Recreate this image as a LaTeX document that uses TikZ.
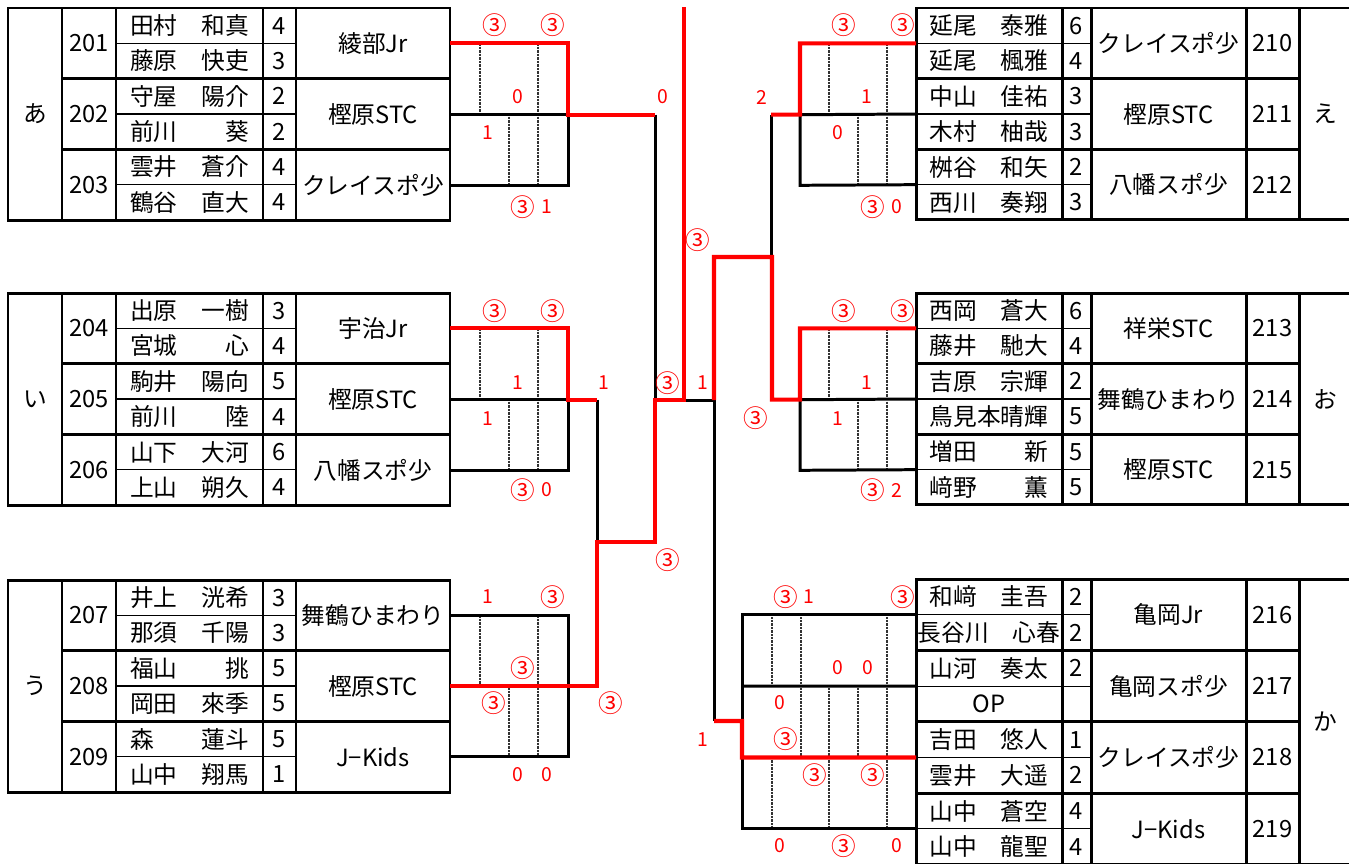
\documentclass[tikz,border=0pt]{standalone}
\usepackage{fontspec}
\setmainfont{Noto Sans CJK JP}
\usepackage{xcolor}
\usepackage{tikz}
\usetikzlibrary{positioning, calc}
\definecolor{winred}{HTML}{FF0000}
\definecolor{gridblack}{HTML}{000000}

\tikzset{
  tblline/.style={gridblack, line width=1.7pt},
  rowline/.style={gridblack, line width=0.6pt},
  brline/.style={gridblack, line width=1.7pt},
  winline/.style={winred, line width=2.3pt},
  scorecol/.style={gridblack!80, line width=1.1pt, dash pattern=on 0.4pt off 0.4pt},
  celltxt/.style={inner sep=0pt, font=\fontsize{13.5}{13.5}\selectfont},
  teamtxt/.style={celltxt, minimum width=3.08cm},
  scoretxt/.style={winred, inner sep=0pt, font=\fontsize{11}{11}\selectfont},
  circtxt/.style={winred, inner sep=0pt, font=\fontsize{14}{14}\selectfont},
}

% grid of a left block (top edge)
\newcommand{\leftgrid}[1]{%
  \draw[tblline] (8,#1) rectangle (450,#1+212);
  \foreach \xx in {62,116,263,296} \draw[tblline] (\xx,#1) -- (\xx,#1+212);
  \foreach \k in {1,2} \draw[tblline] (62,#1+70.67*\k) -- (450,#1+70.67*\k);
  \foreach \k in {1,3,5} \draw[rowline] (116,#1+35.33*\k) -- (296,#1+35.33*\k);
}
% grid of a right block (top edge, groups, row height)
\newcommand{\rightgrid}[3]{%
  \draw[tblline] (916,#1) rectangle (1352,#1+2*#3*#2);
  \foreach \xx in {1062,1091,1246,1299} \draw[tblline] (\xx,#1) -- (\xx,#1+2*#3*#2);
  \foreach \k in {1,...,#2} \draw[tblline] (916,#1+2*#3*\k) -- (1299,#1+2*#3*\k);
  \foreach \k in {1,...,#2} \draw[rowline] (916,#1+2*#3*\k-#3) -- (1091,#1+2*#3*\k-#3);
}

\begin{document}
\begin{tikzpicture}[x=0.02cm, y=-0.02cm]
  \useasboundingbox (0,0) rectangle (1349,863);

  % Left block あ
  \leftgrid{8}
  \node[celltxt] (lblA) at (35,114) {あ};
  \foreach \i/\no in {0/201,1/202,2/203} \node[celltxt] (no\no) at (89,8+35.33+70.67*\i) {\no};
  \foreach \i/\nm/\gr in {0/田村　和真/4,1/藤原　快吏/3,2/守屋　陽介/2,3/前川　　葵/2,4/雲井　蒼介/4,5/鶴谷　直大/4}{
    \node[celltxt] (nmA\i) at (189.5,8+17.67+35.33*\i) {\nm};
    \node[celltxt] (grA\i) at (279.5,8+17.67+35.33*\i) {\gr};
  }
  \node[teamtxt] (tm201) at (373,43.3) {綾部Jr};
  \node[teamtxt] (tm202) at (373,114.7) {樫原STC};
  \node[teamtxt] (tm203) at (373,185.3) {クレイスポ少};

  % Left block い
  \leftgrid{293}
  \node[celltxt] (lblB) at (35,399) {い};
  \foreach \i/\no in {0/204,1/205,2/206} \node[celltxt] (no\no) at (89,293+35.33+70.67*\i) {\no};
  \foreach \i/\nm/\gr in {0/出原　一樹/3,1/宮城　　心/4,2/駒井　陽向/5,3/前川　　陸/4,4/山下　大河/6,5/上山　朔久/4}{
    \node[celltxt] (nmB\i) at (189.5,293+17.67+35.33*\i) {\nm};
    \node[celltxt] (grB\i) at (279.5,293+17.67+35.33*\i) {\gr};
  }
  \node[teamtxt] (tm204) at (373,328.3) {宇治Jr};
  \node[teamtxt] (tm205) at (373,399.7) {樫原STC};
  \node[teamtxt] (tm206) at (373,470.3) {八幡スポ少};

  % Left block う
  \leftgrid{580}
  \node[celltxt] (lblC) at (35,686) {う};
  \foreach \i/\no in {0/207,1/208,2/209} \node[celltxt] (no\no) at (89,580+35.33+70.67*\i) {\no};
  \foreach \i/\nm/\gr in {0/井上　洸希/3,1/那須　千陽/3,2/福山　　挑/5,3/岡田　來季/5,4/森　　蓮斗/5,5/山中　翔馬/1}{
    \node[celltxt] (nmC\i) at (189.5,580+17.67+35.33*\i) {\nm};
    \node[celltxt] (grC\i) at (279.5,580+17.67+35.33*\i) {\gr};
  }
  \node[teamtxt] (tm207) at (373,615.3) {舞鶴ひまわり};
  \node[teamtxt] (tm208) at (373,686) {樫原STC};
  \node[teamtxt] (tm209) at (373,756.7) {J−Kids};

  % Right block え
  \rightgrid{8}{3}{35.33}
  \node[celltxt] (lblD) at (1325,114) {え};
  \foreach \i/\no/\tm in {0/210/クレイスポ少,1/211/樫原STC,2/212/八幡スポ少}{
    \node[celltxt] (no\no) at (1272.5,8+35.33+70.67*\i) {\no};
    \node[celltxt] (tm\no) at (1168.5,8+35.33+70.67*\i) {\tm};
    \coordinate (in\no) at (916,8+35.33+70.67*\i);
  }
  \foreach \i/\nm/\gr in {0/延尾　泰雅/6,1/延尾　楓雅/4,2/中山　佳祐/3,3/木村　柚哉/3,4/桝谷　和矢/2,5/西川　奏翔/3}{
    \node[celltxt] (nmD\i) at (989,8+17.67+35.33*\i) {\nm};
    \node[celltxt] (grD\i) at (1076.5,8+17.67+35.33*\i) {\gr};
  }

  % Right block お
  \rightgrid{293}{3}{35.33}
  \node[celltxt] (lblE) at (1325,399) {お};
  \foreach \i/\no/\tm in {0/213/祥栄STC,1/214/舞鶴ひまわり,2/215/樫原STC}{
    \node[celltxt] (no\no) at (1272.5,293+35.33+70.67*\i) {\no};
    \node[celltxt] (tm\no) at (1168.5,293+35.33+70.67*\i) {\tm};
    \coordinate (in\no) at (916,293+35.33+70.67*\i);
  }
  \foreach \i/\nm/\gr in {0/西岡　蒼大/6,1/藤井　馳大/4,2/吉原　宗輝/2,3/鳥見本晴輝/5,4/増田　　新/5,5/﨑野　　薫/5}{
    \node[celltxt] (nmE\i) at (989,293+17.67+35.33*\i) {\nm};
    \node[celltxt] (grE\i) at (1076.5,293+17.67+35.33*\i) {\gr};
  }

  % Right block か
  \rightgrid{579}{4}{35.7}
  \node[celltxt] (lblF) at (1325,721) {か};
  \foreach \i/\no/\tm in {0/216/亀岡Jr,1/217/亀岡スポ少,2/218/クレイスポ少,3/219/J−Kids}{
    \node[celltxt] (no\no) at (1272.5,579+35.7+71.4*\i) {\no};
    \node[celltxt] (tm\no) at (1168.5,579+35.7+71.4*\i) {\tm};
    \coordinate (in\no) at (916,579+35.7+71.4*\i);
  }
  \foreach \i/\nm/\gr in {0/和﨑　圭吾/2,1/長谷川　心春/2,2/山河　奏太/2,3/OP/,4/吉田　悠人/1,5/雲井　大遥/2,6/山中　蒼空/4,7/山中　龍聖/4}{
    \node[celltxt] (nmF\i) at (989,579+17.85+35.7*\i) {\nm};
    \node[celltxt] (grF\i) at (1076.5,579+17.85+35.7*\i) {\gr};
  }

  % Round-robin boxes, left side
  \foreach \t in {43.3,328.3}{
    \foreach \xx in {480,538} \draw[scorecol] (\xx,\t+2) -- (\xx,\t+69.4);
    \foreach \xx in {509,538} \draw[scorecol] (\xx,\t+73.4) -- (\xx,\t+140);
  }
  \foreach \xx in {480,538} \draw[scorecol] (\xx,617.3) -- (\xx,684);
  \foreach \xx in {509,538} \draw[scorecol] (\xx,688) -- (\xx,754.7);
  \draw[brline] (tm202.east) -- (568,114.7);
  \draw[brline] (tm203.east) -- (568,185.3) -- (568,114.7);
  \draw[brline] (tm205.east) -- (568,399.7);
  \draw[brline] (tm206.east) -- (568,470.3) -- (568,399.7);
  \draw[brline] (tm207.east) -- (568,615.3) -- (568,756.7) -- (tm209.east);

  % Round-robin boxes, right side
  \foreach \t in {43.3,328.3}{
    \foreach \xx in {829,887} \draw[scorecol] (\xx,\t+2) -- (\xx,\t+69.4);
    \foreach \xx in {858,887} \draw[scorecol] (\xx,\t+73.4) -- (\xx,\t+140);
  }
  \foreach \xx in {772,801,887} \draw[scorecol] (\xx,617) -- (\xx,684);
  \foreach \xx in {801,829,858,887} \draw[scorecol] (\xx,688) -- (\xx,755.5);
  \foreach \xx in {772,829,887} \draw[scorecol] (\xx,759.5) -- (\xx,827);
  \draw[brline] (in211) -- (800,114.7);
  \draw[brline] (in212) -- (800,185.3) -- (800,114.7);
  \draw[brline] (in214) -- (800,399.7);
  \draw[brline] (in215) -- (800,470.3) -- (800,399.7);
  \draw[brline] (in216) -- (742,614.7) -- (742,721);
  \draw[brline] (in217) -- (742,686.1);
  \draw[brline] (in219) -- (742,828.9) -- (742,757.5);

  % Knockout lines
  \draw[brline] (655,114.7) -- (655,400);
  \draw[brline] (597,399.7) -- (597,542);
  \draw[brline] (771,114.7) -- (771,257);
  \draw[brline] (684,400) -- (714,400) -- (714,721);

  % Winners
  \draw[winline] (tm201.east) -- (568,43.3) -- (568,114.7) -- (655,114.7);
  \draw[winline] (tm204.east) -- (568,328.3) -- (568,399.7) -- (597,399.7);
  \draw[winline] (tm208.east) -- (597,686) -- (597,542) -- (655,542) -- (655,400) -- (684,400) -- (684,7);
  \draw[winline] (in210) -- (800,43.3) -- (800,114.7) -- (771,114.7);
  \draw[winline] (in213) -- (800,328.3) -- (800,399.7) -- (772,399.7) -- (772,257) -- (714,257) -- (714,400);
  \draw[winline] (714,721) -- (742,721) -- (742,757.5) -- (in218);

  % Scores
  \foreach \x/\y [count=\n] in {495/25,553/25,523/207,495/311,553/311,523/490,668/383,698/240,668/560,553/597,523/668,494/703,611/703,
      844/25,903/25,873/207,844/311,903/311,756/418,873/490,786/597,903/597,786/739,815/775,873/775,844/846}
    \node[circtxt] (cs\n) at (\x,\y) {③};
  \foreach \x/\y/\s [count=\n] in {518/97/0,663/97/0,488/133/1,547/207/1,518/383/1,604/383/1,488/419/1,547/490/0,703/383/1,
      488/597/1,518/775/0,547/775/0,762/97/2,867/97/1,838/133/0,897/207/0,867/383/1,838/419/1,897/490/2,
      809/597/1,838/668/0,868/668/0,780/703/0,703/740/1,780/846/0,897/846/0}
    \node[scoretxt] (ds\n) at (\x,\y) {\s};
\end{tikzpicture}
\end{document}
